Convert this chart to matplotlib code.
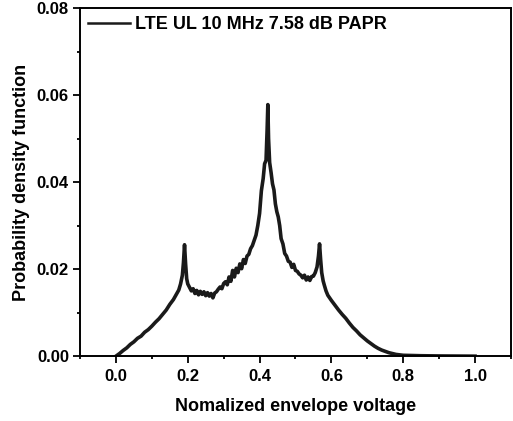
from matplotlib import pyplot as plt
from matplotlib.ticker import MultipleLocator

# envelope voltage (normalized) and pdf values
volt = [0.00, 0.01, 0.02, 0.03, 0.04, 0.05, 0.06, 0.07, 0.08, 0.09,
        0.10, 0.11, 0.12, 0.13, 0.14, 0.15, 0.16, 0.17, 0.175, 0.18,
        0.185, 0.188, 0.191, 0.194, 0.197, 0.20, 0.205, 0.21, 0.215, 0.22,
        0.225, 0.23, 0.235, 0.24, 0.245, 0.25, 0.255, 0.26, 0.265, 0.27,
        0.275, 0.28, 0.285, 0.29, 0.295, 0.30, 0.305, 0.31, 0.315, 0.32,
        0.325, 0.33, 0.335, 0.34, 0.345, 0.35, 0.355, 0.36, 0.365, 0.37,
        0.375, 0.38, 0.385, 0.39, 0.395, 0.40, 0.405, 0.41, 0.414, 0.418,
        0.421, 0.423, 0.425, 0.428, 0.432, 0.436, 0.44, 0.444, 0.448, 0.452,
        0.456, 0.46, 0.465, 0.47, 0.475, 0.48, 0.485, 0.49, 0.495, 0.50,
        0.505, 0.51, 0.515, 0.52, 0.525, 0.53, 0.535, 0.54, 0.545, 0.55,
        0.555, 0.56, 0.564, 0.567, 0.57, 0.573, 0.577, 0.58, 0.585, 0.59,
        0.60, 0.61, 0.62, 0.63, 0.64, 0.65, 0.66, 0.67, 0.68, 0.69,
        0.70, 0.71, 0.72, 0.73, 0.74, 0.75, 0.76, 0.77, 0.78, 0.80,
        0.85, 0.90, 1.00]
pdf = [0.0000, 0.0006, 0.0013, 0.0019, 0.0027, 0.0033, 0.0041, 0.0046, 0.0055, 0.0061,
       0.0069, 0.0078, 0.0086, 0.0096, 0.0106, 0.0119, 0.0130, 0.0145, 0.0152, 0.0166,
       0.0186, 0.0215, 0.0256, 0.0212, 0.0178, 0.0166, 0.0158, 0.0150, 0.0155, 0.0144,
       0.0151, 0.0141, 0.0149, 0.0142, 0.0148, 0.0139, 0.0146, 0.0138, 0.0144, 0.0134,
       0.0145, 0.0148, 0.0154, 0.0159, 0.0155, 0.0167, 0.0171, 0.0164, 0.0182, 0.0172,
       0.0197, 0.0182, 0.0202, 0.0192, 0.0212, 0.0201, 0.0222, 0.0213, 0.0230, 0.0234,
       0.0247, 0.0254, 0.0266, 0.0278, 0.0300, 0.0328, 0.0380, 0.0408, 0.0442, 0.0450,
       0.0520, 0.0578, 0.0500, 0.0445, 0.0422, 0.0396, 0.0382, 0.0350, 0.0332, 0.0320,
       0.0300, 0.0270, 0.0258, 0.0236, 0.0230, 0.0218, 0.0216, 0.0204, 0.0211, 0.0197,
       0.0195, 0.0189, 0.0186, 0.0180, 0.0186, 0.0175, 0.0182, 0.0174, 0.0183, 0.0184,
       0.0192, 0.0205, 0.0230, 0.0258, 0.0222, 0.0192, 0.0173, 0.0164, 0.0150, 0.0140,
       0.0128, 0.0117, 0.0106, 0.0096, 0.0087, 0.0076, 0.0066, 0.0058, 0.0049, 0.0042,
       0.0035, 0.0029, 0.0023, 0.0018, 0.0014, 0.0011, 0.0008, 0.0006, 0.0004, 0.0002,
       0.0001, 0.00005, 0.0]

plt.rcParams['font.family'] = 'Liberation Sans'
plt.rcParams['font.weight'] = 'bold'

fig = plt.figure(figsize=(5.13, 4.21), dpi=100)
ax = fig.add_axes([0.156, 0.154, 0.84, 0.827])

ax.plot(volt, pdf, color='#1a1a1a', lw=2.6, label='LTE UL 10 MHz 7.58 dB PAPR')

ax.set_xlim(-0.1, 1.1)
ax.set_ylim(0, 0.08)
ax.xaxis.set_minor_locator(MultipleLocator(0.1))
ax.yaxis.set_minor_locator(MultipleLocator(0.01))
ax.set_xticks([0.0, 0.2, 0.4, 0.6, 0.8, 1.0])
ax.set_xticklabels(['0.0', '0.2', '0.4', '0.6', '0.8', '1.0'])
ax.set_yticks([0.00, 0.02, 0.04, 0.06, 0.08])
ax.set_yticklabels(['0.00', '0.02', '0.04', '0.06', '0.08'])

ax.tick_params(which='major', direction='out', length=5, width=1.3, labelsize=12)
ax.tick_params(which='minor', direction='out', length=2.5, width=1.3)
ax.tick_params(axis='x', which='major', pad=4)
ax.tick_params(axis='y', which='major', pad=3)
for s in ax.spines.values():
    s.set_linewidth(1.4)

ax.set_xlabel('Nomalized envelope voltage', fontsize=13, fontweight='bold', labelpad=10)
ax.set_ylabel('Probability density function', fontsize=13, fontweight='bold', labelpad=5)

leg = ax.legend(loc='upper left', bbox_to_anchor=(0.0, 1.0), frameon=False,
                fontsize=13, handlelength=2.3, handletextpad=0.3,
                borderaxespad=0.15, borderpad=0.3)
for h in leg.get_lines():
    h.set_linewidth(1.8)

plt.savefig('out.png', dpi=100)
